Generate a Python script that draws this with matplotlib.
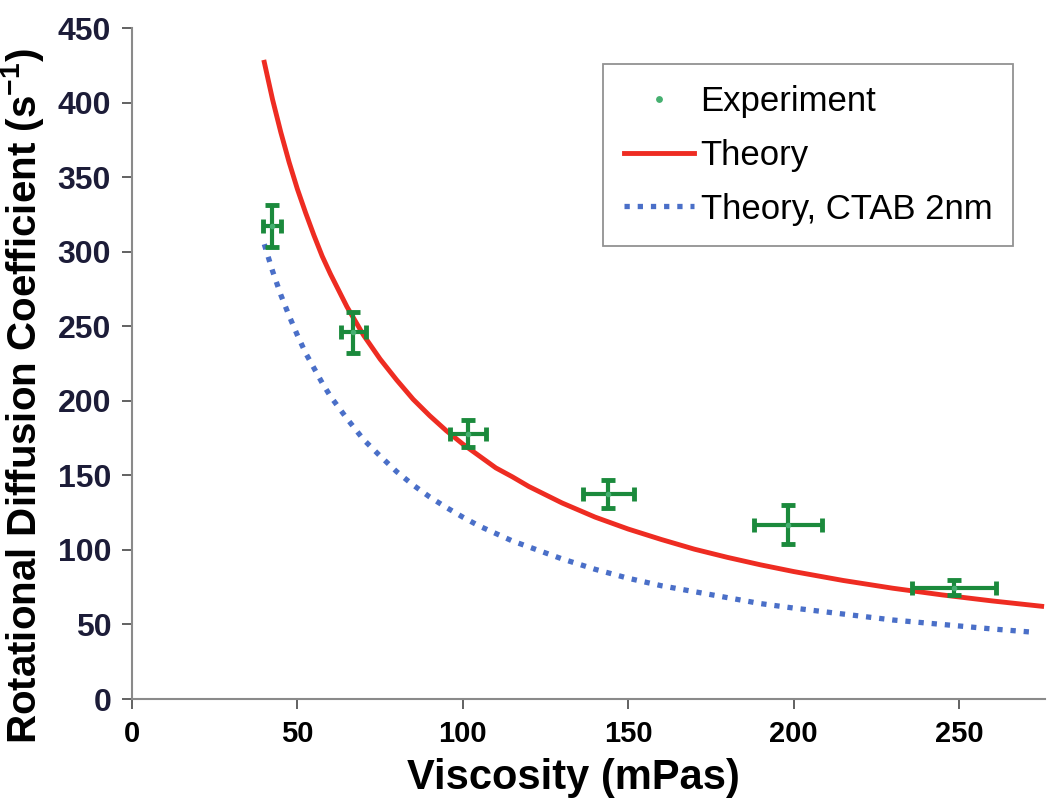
import numpy as np
import matplotlib.pyplot as plt

# experiment points (viscosity, rotational diffusion) with error bars
exp_x = [42.4, 66.9, 101.5, 144.0, 198.4, 248.5]
exp_y = [317, 246, 178, 137.5, 117, 74.5]
exp_xerr = [2.7, 3.8, 5.5, 7.7, 10.3, 12.8]
exp_yerr = [14, 13.7, 9, 9.5, 13, 5]

# theory curves
theory_x = [40, 42.5, 45, 47.5, 50, 52.5, 55, 57.5, 60, 65, 70, 75, 80, 85,
            90, 95, 100, 105, 110, 115, 120, 130, 140, 150, 160, 170, 180,
            190, 200, 215, 230, 245, 260, 275]
theory_y = [427, 402, 380, 360, 342, 326, 311, 297, 285, 263, 244, 228, 214,
            201, 190, 180, 171, 163, 155, 149, 142.5, 131.5, 122, 114, 107,
            100.5, 95, 90, 85.5, 79.5, 74.3, 69.8, 65.8, 62.2]
ctab_x = [40, 42.5, 45, 47.5, 50, 52.5, 55, 57.5, 60, 65, 70, 75, 80, 85,
          90, 95, 100, 105, 110, 115, 120, 130, 140, 150, 160, 170, 180,
          190, 200, 215, 230, 245, 260, 273]
ctab_y = [305, 287, 271, 257, 244, 232, 222, 212, 203, 188, 174, 163, 152.5,
          143.5, 135.5, 128.5, 122, 116, 111, 106, 102, 94, 87, 81, 76, 72,
          68, 64, 61, 57, 53, 50, 47, 44.7]

xticks = [0, 50, 100, 150, 200, 250]
yticks = [0, 50, 100, 150, 200, 250, 300, 350, 400, 450]

plt.rcParams['font.family'] = ['Liberation Sans', 'DejaVu Sans']

fig = plt.figure(figsize=(10.5, 8.07), dpi=100)
ax = fig.add_axes([0.1257, 0.1338, 0.8695, 0.8315])

ax.errorbar(exp_x, exp_y, xerr=exp_xerr, yerr=exp_yerr, fmt='none',
            ecolor='#1b8a3c', elinewidth=3, capsize=5, capthick=3.5, zorder=3)
ax.plot(exp_x, exp_y, 'o', color='#45b070', markersize=3, zorder=4,
        label='Experiment')
ax.plot(theory_x, theory_y, color='#ee2c22', lw=3.5, label='Theory',
        zorder=2)
ax.plot(ctab_x, ctab_y, color='#4a6fc8', lw=3.8, ls=(0, (1, 1.5)),
        label='Theory, CTAB 2nm', zorder=2)

ax.set_xlim(0, 276)
ax.set_ylim(0, 450)
ax.set_xticks(xticks)
ax.set_yticks(yticks)
for s in ['top', 'right']:
    ax.spines[s].set_visible(False)
for s in ['left', 'bottom']:
    ax.spines[s].set_color('#8a8a8a')
    ax.spines[s].set_linewidth(1.5)
ax.tick_params(axis='both', length=7, width=1.3, color='#555555')
ax.tick_params(axis='x', pad=8)
ax.tick_params(axis='y', pad=8)
for lab in ax.get_xticklabels():
    lab.set_fontsize(21)
    lab.set_fontweight('bold')
for lab in ax.get_yticklabels():
    lab.set_fontsize(23)
    lab.set_fontweight('bold')
    lab.set_color('#1c1c38')

ax.set_xlabel('Viscosity (mPas)', fontsize=30, fontweight='bold')
ax.xaxis.set_label_coords(0.483, -0.088)
ax.set_ylabel('Rotational Diffusion Coefficient (s$^{\\mathregular{-1}}$)',
              fontsize=29, fontweight='bold')
ax.yaxis.set_label_coords(-0.094, 0.452)

leg = ax.legend(loc='upper right', bbox_to_anchor=(0.984, 0.972), fontsize=25,
                frameon=True, fancybox=False, edgecolor='#777777',
                handlelength=2.0, handletextpad=0.2, labelspacing=0.6,
                borderpad=0.6, markerscale=1.3)
leg.get_frame().set_linewidth(1.3)

fig.savefig('out.png', dpi=100)
